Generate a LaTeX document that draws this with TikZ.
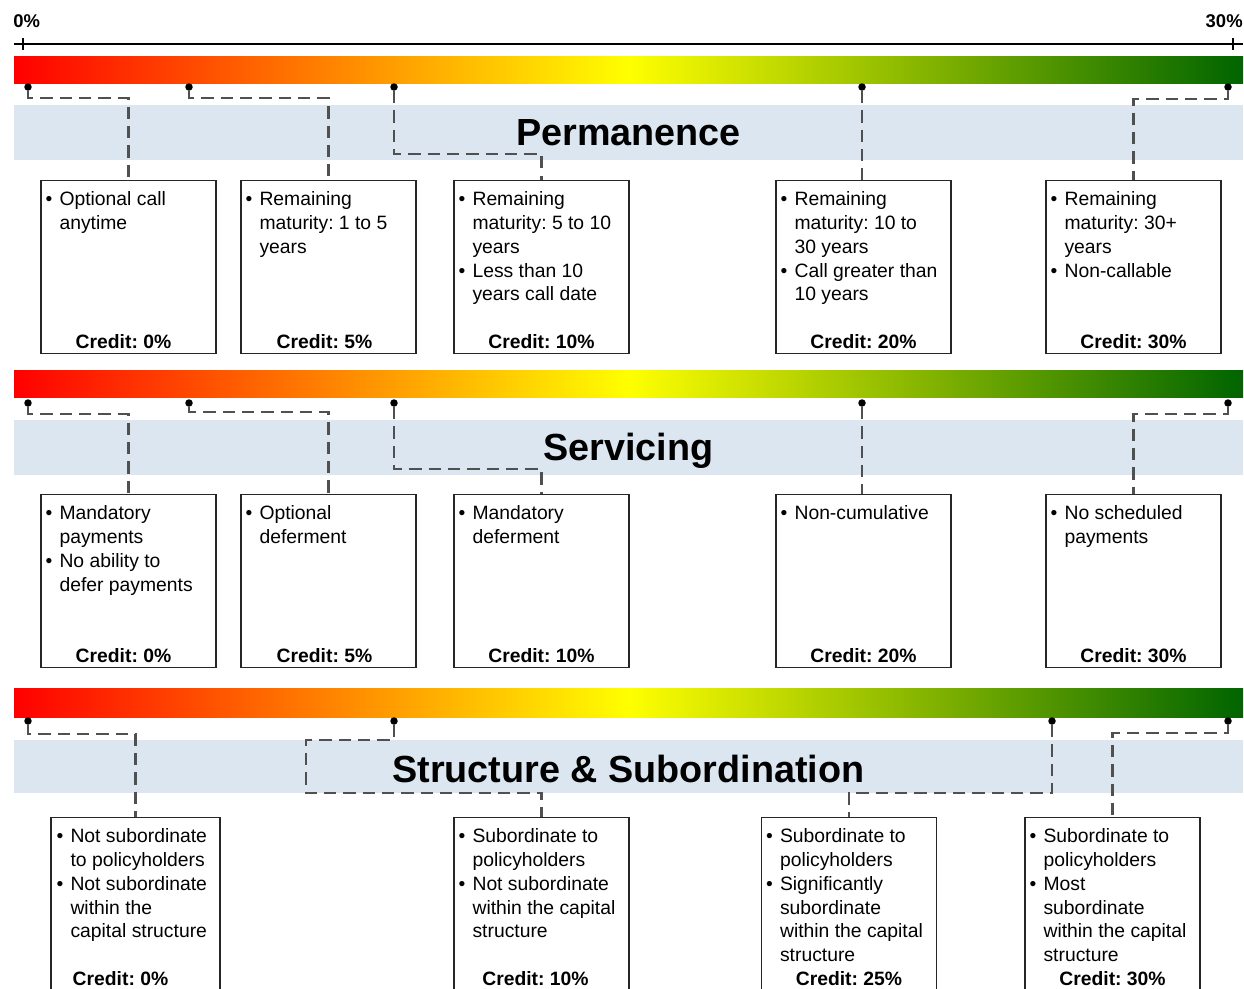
\documentclass[tikz,border=0pt]{standalone}
\usepackage{fontspec}
\setmainfont{Liberation Sans}
\usetikzlibrary{positioning, calc}
\definecolor{bandblue}{HTML}{DCE6F1}
\definecolor{linkgray}{HTML}{505050}
\definecolor{xgreen}{HTML}{006400}
\newcommand{\bulmark}{\makebox[7.9pt][l]{\textbullet}}
\newcommand{\bulskip}{\hspace*{7.9pt}}

\begin{document}
\frenchspacing
\begin{tikzpicture}[x=0.02cm, y=-0.02cm,
		band/.style={fill=bandblue, minimum width=24.58cm, minimum height=1.1cm, text height=15pt, text depth=0pt, font=\fontsize{21.5}{24}\selectfont\bfseries},
		cbox/.style={draw=black!85, line width=0.8pt, anchor=north, minimum width=3.5cm, minimum height=3.46cm},
		btext/.style={anchor=north west, inner sep=0pt, align=left, font=\fontsize{11}{13.6}\selectfont},
		credit/.style={anchor=base, inner sep=0pt, font=\fontsize{11}{13.6}\selectfont\bfseries},
		pct/.style={inner sep=0pt, font=\fontsize{10.5}{12}\selectfont\bfseries},
		pindot/.style={circle, fill=black, inner sep=0pt, minimum size=0.15cm},
		link/.style={draw=linkgray, line width=1.2pt, dash pattern=on 7pt off 4pt},
	]
		\useasboundingbox (0,0) rectangle (1244,988);
		\clip (0,0) rectangle (1244,988);

		% scale
		\node[pct, anchor=west] (lo) at (13,21) {0\%};
		\node[pct, anchor=east] (hi) at (1243,21) {30\%};
		\draw[line width=1.4pt] (14,44) -- (1243,44);
		\draw[line width=1pt] (23,38) -- (23,50);
		\draw[line width=1pt] (1233,38) -- (1233,50);

		% Permanence
		\shade[left color=red, right color=xgreen, middle color=yellow] (14,56) rectangle (1243,83);
		\node[band] (perm) at (628.5,132.5) {Permanence};
		\foreach \x/\n in {28/1, 189/2, 394/3, 862/4, 1228/5}
			\node[pindot] (dp\n) at (\x,87) {};

		\node[cbox] (perm1) at (128.5,180) {};
		\node[cbox] (perm2) at (328.5,180) {};
		\node[cbox] (perm3) at (541.5,180) {};
		\node[cbox] (perm4) at (863.5,180) {};
		\node[cbox] (perm5) at (1133.5,180) {};

		\draw[link] (dp1) -- ++(0,11) -| (perm1.north);
		\draw[link] (dp2) -- ++(0,11) -| (perm2.north);
		\draw[link] (dp3) -- ++(0,67) -| (perm3.north);
		\draw[link] (dp4) -- (dp4 |- perm4.north);
		\draw[link] (dp5) -- ++(0,12) -| (perm5.north);

		\node[btext] at ($(perm1.north west)+(5,11)$) {\bulmark Optional call\\\bulskip anytime};
		\node[btext] at ($(perm2.north west)+(5,11)$) {\bulmark Remaining\\\bulskip maturity: 1 to 5\\\bulskip years};
		\node[btext] at ($(perm3.north west)+(5,11)$) {\bulmark Remaining\\\bulskip maturity: 5 to 10\\\bulskip years\\\bulmark Less than 10\\\bulskip years call date};
		\node[btext] at ($(perm4.north west)+(5,11)$) {\bulmark Remaining\\\bulskip maturity: 10 to\\\bulskip 30 years\\\bulmark Call greater than\\\bulskip 10 years};
		\node[btext] at ($(perm5.north west)+(5,11)$) {\bulmark Remaining\\\bulskip maturity: 30+\\\bulskip years\\\bulmark Non-callable};
		\node[credit] at ($(perm1.north)+(-5,168)$) {Credit: 0\%};
		\node[credit] at ($(perm2.north)+(-4,168)$) {Credit: 5\%};
		\node[credit] at ($(perm3.north)+(0,168)$) {Credit: 10\%};
		\node[credit] at ($(perm4.north)+(0,168)$) {Credit: 20\%};
		\node[credit] at ($(perm5.north)+(0,168)$) {Credit: 30\%};

		% Servicing
		\shade[left color=red, right color=xgreen, middle color=yellow] (14,370) rectangle (1243,397);
		\node[band] (serv) at (628.5,447.5) {Servicing};
		\foreach \x/\n in {28/1, 189/2, 394/3, 862/4, 1228/5}
			\node[pindot] (ds\n) at (\x,403) {};

		\node[cbox] (serv1) at (128.5,494) {};
		\node[cbox] (serv2) at (328.5,494) {};
		\node[cbox] (serv3) at (541.5,494) {};
		\node[cbox] (serv4) at (863.5,494) {};
		\node[cbox] (serv5) at (1133.5,494) {};

		\draw[link] (ds1) -- ++(0,11) -| (serv1.north);
		\draw[link] (ds2) -- ++(0,9) -| (serv2.north);
		\draw[link] (ds3) -- ++(0,66) -| (serv3.north);
		\draw[link] (ds4) -- (ds4 |- serv4.north);
		\draw[link] (ds5) -- ++(0,11) -| (serv5.north);

		\node[btext] at ($(serv1.north west)+(5,11)$) {\bulmark Mandatory\\\bulskip payments\\\bulmark No ability to\\\bulskip defer payments};
		\node[btext] at ($(serv2.north west)+(5,11)$) {\bulmark Optional\\\bulskip deferment};
		\node[btext] at ($(serv3.north west)+(5,11)$) {\bulmark Mandatory\\\bulskip deferment};
		\node[btext] at ($(serv4.north west)+(5,11)$) {\bulmark Non-cumulative};
		\node[btext] at ($(serv5.north west)+(5,11)$) {\bulmark No scheduled\\\bulskip payments};
		\node[credit] at ($(serv1.north)+(-5,168)$) {Credit: 0\%};
		\node[credit] at ($(serv2.north)+(-4,168)$) {Credit: 5\%};
		\node[credit] at ($(serv3.north)+(0,168)$) {Credit: 10\%};
		\node[credit] at ($(serv4.north)+(0,168)$) {Credit: 20\%};
		\node[credit] at ($(serv5.north)+(0,168)$) {Credit: 30\%};

		% Structure & Subordination
		\shade[left color=red, right color=xgreen, middle color=yellow] (14,688) rectangle (1243,717);
		\node[band, minimum height=1.06cm, text height=18.4pt] (stru) at (628.5,766.5) {Structure \& Subordination};
		\foreach \x/\n in {28/1, 394/2, 1052/3, 1228/4}
			\node[pindot] (du\n) at (\x,721) {};

		\node[cbox, minimum width=3.38cm] (sub1) at (135.5,817) {};
		\node[cbox] (sub2) at (541.5,817) {};
		\node[cbox] (sub3) at (849,817) {};
		\node[cbox] (sub4) at (1112.5,817) {};

		\draw[link] (du1) -- ++(0,13) -| (sub1.north);
		\draw[link] (du2) -- ++(0,19) -| ++(-88,53) -| (sub2.north);
		\draw[link] (du3) -- ++(0,72) -| (sub3.north);
		\draw[link] (du4) -- ++(0,12) -| (sub4.north);

		\node[btext] at ($(sub1.north west)+(6,11)$) {\bulmark Not subordinate\\\bulskip to policyholders\\\bulmark Not subordinate\\\bulskip within the\\\bulskip capital structure};
		\node[btext] at ($(sub2.north west)+(5,11)$) {\bulmark Subordinate to\\\bulskip policyholders\\\bulmark Not subordinate\\\bulskip within the capital\\\bulskip structure};
		\node[btext] at ($(sub3.north west)+(5,11)$) {\bulmark Subordinate to\\\bulskip policyholders\\\bulmark Significantly\\\bulskip subordinate\\\bulskip within the capital\\\bulskip structure};
		\node[btext] at ($(sub4.north west)+(5,11)$) {\bulmark Subordinate to\\\bulskip policyholders\\\bulmark Most\\\bulskip subordinate\\\bulskip within the capital\\\bulskip structure};
		\node[credit] at ($(sub1.north)+(-15,168)$) {Credit: 0\%};
		\node[credit] at ($(sub2.north)+(-6,168)$) {Credit: 10\%};
		\node[credit] at ($(sub3.north)+(0,168)$) {Credit: 25\%};
		\node[credit] at ($(sub4.north)+(0,168)$) {Credit: 30\%};
	\end{tikzpicture}
\end{document}
